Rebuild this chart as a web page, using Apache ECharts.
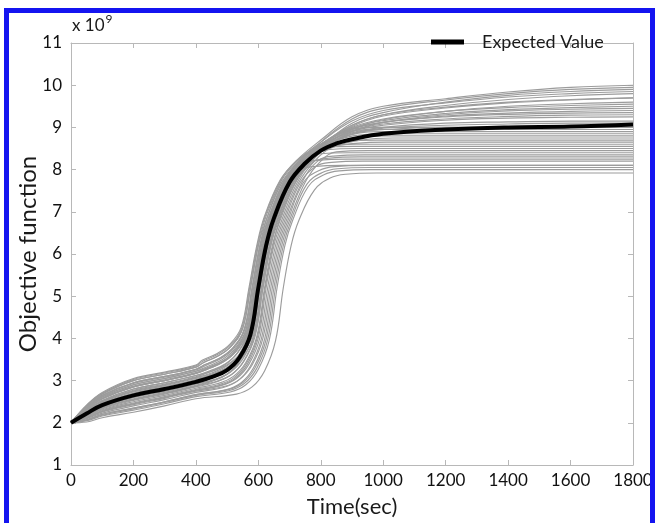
<!DOCTYPE html>
<html>
<head>
<meta charset="utf-8">
<script src="https://cdn.jsdelivr.net/npm/echarts@6/dist/echarts.min.js"></script>
<style>
html,body{margin:0;padding:0;background:#fff;overflow:hidden;}
#chart{position:absolute;left:0;top:0;width:656px;height:523px;}
#frame{position:absolute;left:4px;top:8px;width:651px;height:540px;box-sizing:border-box;border:5px solid #1414f0;pointer-events:none;}
</style>
</head>
<body>
<div id="chart"></div>
<div id="frame"></div>
<script>
// x-axis ticks and y-axis ticks
const xTicks = [0, 200, 400, 600, 800, 1000, 1200, 1400, 1600, 1800];
const yTicks = [1, 2, 3, 4, 5, 6, 7, 8, 9, 10, 11];

// Expected value (x 1e9) versus time (sec)
const expectedValue = [[0,2.0],[50,2.22],[100,2.42],[200,2.65],[300,2.8],[400,2.97],[450,3.08],[500,3.25],[540,3.55],[575,4.1],[600,5.2],[625,6.2],[650,6.85],[700,7.7],[750,8.15],[800,8.45],[850,8.62],[900,8.72],[1000,8.85],[1200,8.95],[1400,9.0],[1600,9.02],[1800,9.07]];

// Ensemble realizations (x 1e9)
const ens01 = [[0,2.0],[50,2.42],[100,2.72],[200,3.05],[300,3.2],[400,3.37],[420,3.48],[470,3.65],[510,3.87],[545,4.26],[570,5.2],[595,6.2],[620,6.9],[670,7.75],[720,8.2],[800,8.7],[900,9.25],[1000,9.5],[1200,9.68],[1400,9.84],[1600,9.95],[1800,10.0]];
const ens02 = [[0,2.0],[50,2.40],[100,2.68],[200,3.0],[300,3.15],[400,3.32],[425,3.43],[475,3.6],[515,3.83],[550,4.24],[575,5.2],[600,6.2],[625,6.9],[675,7.75],[725,8.2],[800,8.65],[900,9.15],[1000,9.4],[1200,9.58],[1400,9.72],[1600,9.8],[1800,9.85]];
const ens03 = [[0,2.0],[50,2.37],[100,2.65],[200,2.95],[300,3.1],[400,3.27],[430,3.38],[480,3.55],[520,3.79],[555,4.22],[580,5.2],[605,6.2],[630,6.9],[680,7.75],[730,8.2],[800,8.6],[900,9.05],[1000,9.3],[1200,9.48],[1400,9.6],[1600,9.66],[1800,9.7]];
const ens04 = [[0,2.0],[50,2.35],[100,2.61],[200,2.9],[300,3.05],[400,3.22],[435,3.33],[485,3.5],[525,3.75],[560,4.2],[585,5.2],[610,6.2],[635,6.9],[685,7.75],[735,8.2],[800,8.6],[900,9.0],[1000,9.2],[1200,9.38],[1400,9.47],[1600,9.52],[1800,9.55]];
const ens05 = [[0,2.0],[50,2.32],[100,2.57],[200,2.85],[300,3.0],[400,3.17],[440,3.28],[490,3.45],[530,3.71],[565,4.18],[590,5.2],[615,6.2],[640,6.9],[690,7.75],[740,8.2],[800,8.55],[900,8.95],[1000,9.12],[1200,9.27],[1400,9.34],[1600,9.38],[1800,9.4]];
const ens06 = [[0,2.0],[50,2.3],[100,2.53],[200,2.8],[300,2.95],[400,3.12],[445,3.23],[495,3.4],[535,3.67],[570,4.16],[595,5.2],[620,6.2],[645,6.9],[695,7.75],[745,8.2],[800,8.55],[900,8.9],[1000,9.05],[1200,9.17],[1400,9.22],[1600,9.24],[1800,9.25]];
const ens07 = [[0,2.0],[50,2.27],[100,2.5],[200,2.75],[300,2.9],[400,3.07],[450,3.18],[500,3.35],[540,3.63],[575,4.14],[600,5.2],[625,6.2],[650,6.9],[700,7.75],[750,8.2],[800,8.5],[900,8.85],[1000,8.98],[1200,9.05],[1400,9.08],[1600,9.1],[1800,9.1]];
const ens08 = [[0,2.0],[50,2.25],[100,2.46],[200,2.7],[300,2.85],[400,3.02],[455,3.13],[505,3.3],[545,3.59],[580,4.12],[605,5.2],[630,6.2],[655,6.8],[705,7.7],[755,8.2],[805,8.5],[905,8.85],[1005,8.95],[1200,9.0],[1800,9.0]];
const ens09 = [[0,2.0],[50,2.22],[100,2.42],[200,2.65],[300,2.8],[400,2.97],[445,3.08],[495,3.25],[535,3.55],[570,4.1],[595,5.2],[620,6.2],[645,6.8],[695,7.7],[745,8.2],[795,8.5],[895,8.82],[995,8.9],[1800,8.9]];
const ens10 = [[0,2.0],[50,2.2],[100,2.38],[200,2.6],[300,2.75],[400,2.92],[460,3.03],[510,3.2],[550,3.51],[585,4.08],[610,5.2],[635,6.2],[660,6.8],[710,7.7],[760,8.2],[810,8.5],[910,8.75],[1010,8.8],[1800,8.8]];
const ens11 = [[0,2.0],[50,2.37],[100,2.65],[200,2.95],[300,3.1],[400,3.27],[430,3.38],[480,3.55],[520,3.79],[555,4.22],[580,5.2],[605,6.2],[630,6.8],[680,7.7],[730,8.2],[780,8.5],[880,8.67],[980,8.7],[1800,8.7]];
const ens12 = [[0,2.0],[50,2.17],[100,2.35],[200,2.55],[300,2.7],[400,2.87],[465,2.98],[515,3.15],[555,3.47],[590,4.06],[615,5.2],[640,6.2],[665,6.8],[715,7.7],[765,8.2],[815,8.5],[915,8.6],[1800,8.6]];
const ens13 = [[0,2.0],[50,2.15],[100,2.31],[200,2.5],[300,2.65],[400,2.82],[470,2.93],[520,3.1],[560,3.43],[595,4.04],[620,5.2],[645,6.2],[670,6.8],[720,7.7],[770,8.2],[820,8.47],[920,8.5],[1800,8.5]];
const ens14 = [[0,2.0],[50,2.32],[100,2.57],[200,2.85],[300,3.0],[400,3.17],[440,3.28],[490,3.45],[530,3.71],[565,4.18],[590,5.2],[615,6.2],[640,6.8],[690,7.7],[740,8.2],[790,8.37],[890,8.4],[1800,8.4]];
const ens15 = [[0,2.0],[50,2.12],[100,2.27],[200,2.45],[300,2.6],[400,2.77],[475,2.88],[525,3.05],[565,3.39],[600,4.02],[625,5.2],[650,6.2],[675,6.8],[725,7.7],[775,8.18],[825,8.27],[925,8.3],[1800,8.3]];
const ens16 = [[0,2.0],[50,2.1],[100,2.23],[200,2.4],[300,2.55],[400,2.72],[485,2.83],[535,3.0],[575,3.35],[610,4.0],[635,5.2],[660,6.2],[685,6.8],[735,7.7],[785,8.08],[835,8.17],[935,8.2],[1800,8.2]];
const ens17 = [[0,2.0],[50,2.07],[100,2.2],[200,2.35],[300,2.5],[400,2.67],[495,2.78],[545,2.95],[585,3.31],[620,3.98],[645,5.2],[670,6.2],[695,6.8],[745,7.7],[795,7.98],[845,8.07],[945,8.1],[1800,8.1]];
const ens18 = [[0,2.0],[50,2.05],[100,2.16],[200,2.3],[300,2.45],[400,2.62],[510,2.73],[560,2.9],[600,3.27],[635,3.96],[660,5.2],[685,6.2],[710,6.8],[760,7.6],[810,7.88],[860,7.97],[960,8.0],[1800,8.0]];
const ens19 = [[0,2.0],[50,2.02],[100,2.12],[200,2.25],[300,2.4],[400,2.57],[530,2.68],[580,2.85],[620,3.23],[655,3.94],[680,5.2],[705,6.2],[730,6.8],[780,7.52],[830,7.8],[880,7.89],[980,7.92],[1800,7.92]];
const ens20 = [[0,2.0],[50,2.27],[100,2.5],[200,2.75],[300,2.9],[400,3.07],[460,3.18],[510,3.35],[550,3.63],[585,4.14],[610,5.2],[635,6.2],[660,6.9],[710,7.75],[760,8.2],[810,8.55],[900,8.95],[1000,9.18],[1200,9.38],[1400,9.5],[1600,9.56],[1800,9.6]];
const ens21 = [[0,2.0],[50,2.17],[100,2.35],[200,2.55],[300,2.7],[400,2.87],[450,2.98],[500,3.15],[540,3.47],[575,4.06],[600,5.2],[625,6.2],[650,6.9],[700,7.75],[750,8.2],[800,8.55],[900,8.92],[1000,9.08],[1200,9.2],[1400,9.26],[1600,9.29],[1800,9.3]];
const ens22 = [[0,2.0],[50,2.32],[100,2.57],[200,2.85],[300,3.0],[400,3.17],[435,3.28],[485,3.45],[525,3.71],[560,4.18],[585,5.2],[610,6.2],[635,6.8],[685,7.7],[735,8.2],[785,8.5],[885,8.9],[985,8.95],[1800,8.95]];
const ens23 = [[0,2.0],[50,2.12],[100,2.27],[200,2.45],[300,2.6],[400,2.77],[480,2.88],[530,3.05],[570,3.39],[605,4.02],[630,5.2],[655,6.2],[680,6.8],[730,7.7],[780,8.2],[830,8.5],[930,8.7],[1030,8.75],[1800,8.75]];
const ens24 = [[0,2.0],[50,2.22],[100,2.42],[200,2.65],[300,2.8],[400,2.97],[455,3.08],[505,3.25],[545,3.55],[580,4.1],[605,5.2],[630,6.2],[655,6.9],[705,7.75],[755,8.2],[805,8.6],[900,9.05],[1000,9.3],[1200,9.52],[1400,9.66],[1600,9.75],[1800,9.8]];
const ens25 = [[0,2.0],[50,2.07],[100,2.2],[200,2.35],[300,2.5],[400,2.67],[500,2.78],[550,2.95],[590,3.31],[625,3.98],[650,5.2],[675,6.2],[700,6.8],[750,7.7],[800,8.2],[850,8.42],[950,8.45],[1800,8.45]];
const ens26 = [[0,2.0],[50,2.4],[100,2.68],[200,3.0],[300,3.15],[400,3.32],[425,3.43],[475,3.6],[515,3.83],[550,4.24],[575,5.2],[600,6.2],[625,6.8],[675,7.7],[725,7.98],[775,8.07],[875,8.1],[1800,8.1]];
const ens27 = [[0,2.0],[50,2.35],[100,2.61],[200,2.9],[300,3.05],[400,3.22],[445,3.33],[495,3.5],[535,3.75],[570,4.2],[595,5.2],[620,6.2],[645,6.9],[695,7.75],[745,8.2],[800,8.65],[900,9.2],[1000,9.45],[1200,9.65],[1400,9.8],[1600,9.9],[1800,9.95]];
const ens28 = [[0,2.0],[50,2.2],[100,2.38],[200,2.6],[300,2.75],[400,2.92],[440,3.03],[490,3.2],[530,3.51],[565,4.08],[590,5.2],[615,6.2],[640,6.9],[690,7.75],[740,8.2],[800,8.52],[900,8.87],[1000,9.0],[1200,9.1],[1400,9.13],[1600,9.15],[1800,9.15]];
const ens29 = [[0,2.0],[50,2.28],[100,2.51],[200,2.77],[300,2.92],[400,3.09],[442,3.2],[492,3.37],[532,3.65],[567,4.15],[592,5.2],[617,6.2],[642,6.9],[692,7.75],[742,8.2],[800,8.57],[900,8.98],[1000,9.16],[1200,9.33],[1400,9.42],[1600,9.47],[1800,9.5]];
const ens30 = [[0,2.0],[50,2.16],[100,2.33],[200,2.53],[300,2.68],[400,2.85],[462,2.96],[512,3.13],[552,3.45],[587,4.05],[612,5.2],[637,6.2],[662,6.8],[712,7.7],[762,8.2],[812,8.5],[912,8.62],[1012,8.65],[1800,8.65]];
const ens31 = [[0,2.0],[50,2.36],[100,2.63],[200,2.93],[300,3.08],[400,3.25],[432,3.36],[482,3.53],[522,3.77],[557,4.21],[582,5.2],[607,6.2],[632,6.8],[682,7.7],[732,8.2],[782,8.5],[882,8.92],[982,9.0],[1800,9.0]];
const ens32 = [[0,2.0],[50,2.11],[100,2.26],[200,2.43],[300,2.58],[400,2.75],[490,2.86],[540,3.03],[580,3.37],[615,4.01],[640,5.2],[665,6.2],[690,6.8],[740,7.7],[790,8.2],[840,8.32],[940,8.35],[1800,8.35]];
const ens33 = [[0,2.0],[50,2.25],[100,2.46],[200,2.7],[300,2.85],[400,3.02],[448,3.13],[498,3.3],[538,3.59],[573,4.12],[598,5.2],[623,6.2],[648,6.9],[698,7.75],[748,8.2],[800,8.58],[900,9.02],[1000,9.27],[1200,9.46],[1400,9.58],[1600,9.65],[1800,9.7]];
const ens34 = [[0,2.0],[50,2.06],[100,2.18],[200,2.33],[300,2.48],[400,2.65],[505,2.76],[555,2.93],[595,3.29],[630,3.97],[655,5.2],[680,6.2],[705,6.8],[755,7.65],[805,7.93],[855,8.02],[955,8.05],[1800,8.05]];
const ens35 = [[0,2.0],[50,2.41],[100,2.7],[200,3.03],[300,3.18],[400,3.35],[422,3.46],[472,3.63],[512,3.85],[547,4.25],[572,5.2],[597,6.2],[622,6.9],[672,7.75],[722,8.2],[800,8.6],[900,8.97],[1000,9.12],[1200,9.25],[1400,9.31],[1600,9.34],[1800,9.35]];
const ens36 = [[0,2.0],[50,2.3],[100,2.53],[200,2.8],[300,2.95],[400,3.12],[455,3.23],[505,3.4],[545,3.67],[580,4.16],[605,5.2],[630,6.2],[655,6.8],[705,7.7],[755,8.2],[805,8.52],[905,8.55],[1800,8.55]];
const ens37 = [[0,2.0],[50,2.13],[100,2.29],[200,2.47],[300,2.62],[400,2.79],[472,2.9],[522,3.07],[562,3.41],[597,4.03],[622,5.2],[647,6.2],[672,6.9],[722,7.75],[772,8.2],[822,8.55],[900,8.9],[1000,9.12],[1200,9.3],[1400,9.39],[1600,9.43],[1800,9.45]];
const ens38 = [[0,2.0],[50,2.18],[100,2.36],[200,2.57],[300,2.72],[400,2.89],[453,3.0],[503,3.17],[543,3.49],[578,4.07],[603,5.2],[628,6.2],[653,6.8],[703,7.7],[753,8.2],[803,8.5],[903,8.8],[1003,8.85],[1800,8.85]];
const ens39 = [[0,2.0],[50,2.33],[100,2.59],[200,2.87],[300,3.02],[400,3.19],[438,3.3],[488,3.47],[528,3.73],[563,4.19],[588,5.2],[613,6.2],[638,6.8],[688,7.7],[738,8.13],[788,8.22],[888,8.25],[1800,8.25]];
const ens40 = [[0,2.0],[50,2.26],[100,2.48],[200,2.73],[300,2.88],[400,3.05],[465,3.16],[515,3.33],[555,3.61],[590,4.13],[615,5.2],[640,6.2],[665,6.9],[715,7.75],[765,8.2],[815,8.62],[900,9.1],[1000,9.35],[1200,9.6],[1400,9.76],[1600,9.85],[1800,9.9]];

const ensemble = [ens01,ens02,ens03,ens04,ens05,ens06,ens07,ens08,ens09,ens10,ens11,ens12,ens13,ens14,ens15,ens16,ens17,ens18,ens19,ens20,ens21,ens22,ens23,ens24,ens25,ens26,ens27,ens28,ens29,ens30,ens31,ens32,ens33,ens34,ens35,ens36,ens37,ens38,ens39,ens40];

const FONT = 'Lato, "Open Sans", sans-serif';
const chart = echarts.init(document.getElementById('chart'), null, {renderer: 'canvas'});

const series = ensemble.map((d, i) => ({
  name: 'realization' + (i + 1),
  type: 'line',
  data: d,
  showSymbol: false,
  smooth: 0.4,
  lineStyle: {color: '#9c9c9c', width: 1.15},
  z: 2,
  silent: true
}));
series.push({
  name: 'Expected Value',
  type: 'line',
  data: expectedValue,
  showSymbol: false,
  smooth: 0.4,
  lineStyle: {color: '#000', width: 4},
  itemStyle: {color: '#000'},
  z: 5
});

const axisLineStyle = {color: '#b8b8b8', width: 1};
const plain = v => String(v);

chart.setOption({
  animation: false,
  backgroundColor: '#fff',
  grid: {left: 71, top: 43, width: 562, height: 425, show: false},
  legend: {
    data: ['Expected Value'],
    left: 426, top: 28,
    icon: 'rect', itemWidth: 33, itemHeight: 5,
    textStyle: {fontFamily: FONT, fontSize: 18, color: '#1a1a1a', padding: [0, 0, 0, 13]}
  },
  graphic: [{
    type: 'text', left: 72, top: 13,
    style: {
      text: '{a|x 10}{b|9}',
      rich: {
        a: {fontFamily: FONT, fontSize: 17, fill: '#1a1a1a', verticalAlign: 'bottom', lineHeight: 21},
        b: {fontFamily: FONT, fontSize: 12, fill: '#1a1a1a', verticalAlign: 'top', lineHeight: 21, padding: [0, 0, 10, 1]}
      }
    }
  }],
  xAxis: [{
    type: 'value', min: 0, max: 1800, interval: 200,
    name: 'Time(sec)', nameLocation: 'middle', nameGap: 31, nameMoveOverlap: false,
    nameTextStyle: {fontFamily: FONT, fontSize: 22, color: '#1a1a1a'},
    axisLine: {show: true, lineStyle: axisLineStyle},
    axisTick: {show: true, inside: true, length: 5, lineStyle: axisLineStyle},
    axisLabel: {fontFamily: FONT, fontSize: 17, color: '#111', margin: 7, formatter: plain,
      customValues: xTicks},
    splitLine: {show: false}
  }, {
    type: 'value', min: 0, max: 1800, interval: 200, position: 'top',
    axisLine: {show: true, onZero: false, lineStyle: axisLineStyle},
    axisTick: {show: true, inside: true, length: 5, lineStyle: axisLineStyle},
    axisLabel: {show: false}, splitLine: {show: false}
  }],
  yAxis: [{
    type: 'value', min: 1, max: 11, interval: 1,
    name: 'Objective function', nameLocation: 'middle', nameGap: 31, nameMoveOverlap: false,
    nameTextStyle: {fontFamily: FONT, fontSize: 24, color: '#1a1a1a'},
    axisLine: {show: true, onZero: false, lineStyle: axisLineStyle},
    axisTick: {show: true, inside: true, length: 5, lineStyle: axisLineStyle},
    axisLabel: {fontFamily: FONT, fontSize: 17, color: '#111', margin: 9, formatter: plain,
      customValues: yTicks},
    splitLine: {show: false}
  }, {
    type: 'value', min: 1, max: 11, interval: 1, position: 'right',
    axisLine: {show: true, onZero: false, lineStyle: axisLineStyle},
    axisTick: {show: true, inside: true, length: 5, lineStyle: axisLineStyle},
    axisLabel: {show: false}, splitLine: {show: false}
  }],
  series: series
});
</script>
</body>
</html>
